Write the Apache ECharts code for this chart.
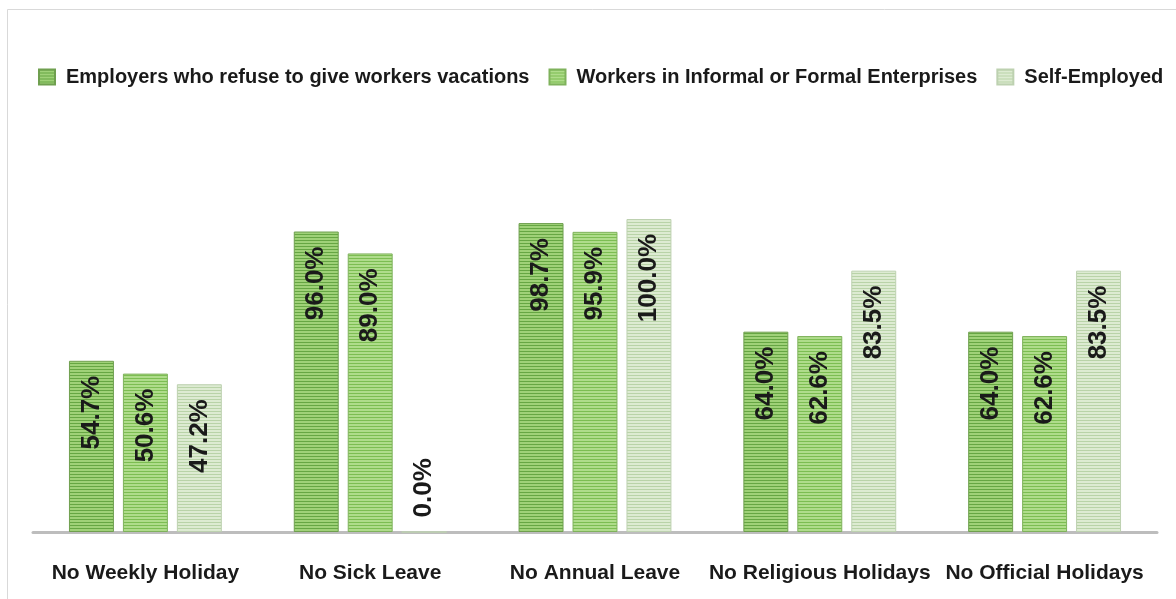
<!DOCTYPE html>
<html>
<head>
<meta charset="utf-8">
<style>
  html, body { margin: 0; padding: 0; background: #ffffff; }
  #chart { width: 1176px; height: 599px; }
</style>
<script src="https://cdn.jsdelivr.net/npm/echarts@6/dist/echarts.min.js"></script>
</head>
<body>
<div id="chart"></div>
<script>
// Leave categories
const categories = ['No Weekly Holiday', 'No Sick Leave', 'No Annual Leave', 'No Religious Holidays', 'No Official Holidays'];

// Series names
const seriesNames = [
  'Employers who refuse to give workers vacations',
  'Workers in Informal or Formal Enterprises',
  'Self-Employed'
];

// Share of respondents (%)
const employersValues = [54.7, 96.0, 98.7, 64.0, 64.0];
const workersValues = [50.6, 89.0, 95.9, 62.6, 62.6];
const selfEmployedValues = [47.2, 0.0, 100.0, 83.5, 83.5];

// Horizontal stripe fill for each series
function stripes(dark, light) {
  const c = document.createElement('canvas');
  c.width = 4; c.height = 3;
  const ctx = c.getContext('2d');
  ctx.fillStyle = light; ctx.fillRect(0, 0, 4, 3);
  ctx.fillStyle = dark; ctx.fillRect(0, 0, 4, 1);
  return { image: c, repeat: 'repeat' };
}

const fills = [
  { fill: stripes('#66a643', '#9fd178'), border: '#6f9f4f' },
  { fill: stripes('#7cbd52', '#afdc8b'), border: '#7fb25c' },
  { fill: stripes('#b9d3a8', '#ddebd2'), border: '#bdd1b0' }
];

const labelFont = '"Liberation Sans", Arial, sans-serif';

function makeSeries(name, values, idx) {
  return {
    name: name,
    type: 'bar',
    barGap: '20%',
    barCategoryGap: '32%',
    itemStyle: { color: fills[idx].fill, borderColor: fills[idx].border, borderWidth: 1 },
    data: values.map(v => {
      const zero = v === 0;
      return {
        value: v,
        label: zero
          ? { position: 'top', align: 'left', distance: 14 }
          : { position: 'insideTop', align: 'right', distance: 15 }
      };
    }),
    label: {
      show: true,
      rotate: 90,
      verticalAlign: 'middle',
      color: '#1a1a1a',
      fontFamily: labelFont,
      fontWeight: 'bold',
      fontSize: 26,
      formatter: p => p.value.toFixed(1) + '%'
    }
  };
}

const chart = echarts.init(document.getElementById('chart'), null, { renderer: 'canvas' });

chart.setOption({
  animation: false,
  backgroundColor: '#ffffff',
  graphic: [{
    type: 'rect',
    silent: true,
    shape: { x: 7.5, y: 9.5, width: 1300, height: 700 },
    style: { fill: 'none', stroke: '#d9d9d9', lineWidth: 1 }
  }],
  legend: {
    data: seriesNames,
    left: 33,
    top: 62,
    width: 1400,
    itemWidth: 16,
    itemHeight: 15,
    itemGap: 19,
    icon: 'rect',
    textStyle: {
      fontFamily: labelFont,
      fontWeight: 'bold',
      fontSize: 20,
      color: '#1a1a1a',
      padding: [0, 0, 0, 6]
    }
  },
  grid: { left: 33, right: 19, top: 219, bottom: 67, containLabel: false },
  xAxis: {
    type: 'category',
    data: categories,
    axisLine: { show: true, lineStyle: { color: '#bdbdbd', width: 3 } },
    axisTick: { show: false },
    axisLabel: {
      margin: 31,
      color: '#1a1a1a',
      fontFamily: labelFont,
      fontWeight: 'bold',
      fontSize: 21,
      interval: 0
    }
  },
  yAxis: {
    type: 'value',
    min: 0,
    max: 100,
    show: false,
    splitLine: { show: false }
  },
  series: [
    makeSeries(seriesNames[0], employersValues, 0),
    makeSeries(seriesNames[1], workersValues, 1),
    makeSeries(seriesNames[2], selfEmployedValues, 2)
  ]
});
</script>
</body>
</html>
